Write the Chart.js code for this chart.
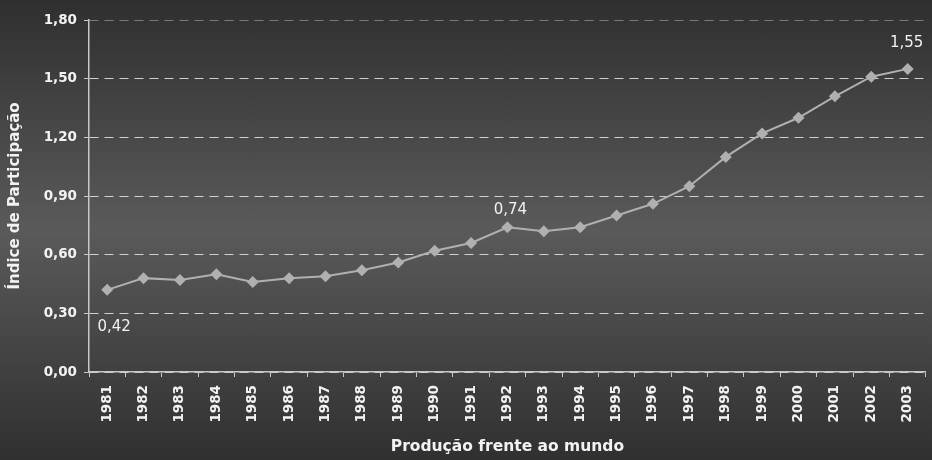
<!DOCTYPE html>
<html>
<head>
<meta charset="utf-8">
<script src="https://cdn.jsdelivr.net/npm/chart.js@4.4.1/dist/chart.umd.min.js"></script>
<style>
  html, body { margin: 0; padding: 0; }
  #wrap {
    width: 932px; height: 460px; position: relative;
    background: linear-gradient(to bottom, #2f2f2f 0%, #5a5a5a 50%, #303030 100%);
  }
</style>
</head>
<body>
<div id="wrap"><canvas id="chart"></canvas></div>
<script>
// Índice de participação - produção frente ao mundo
const anos = ['1981','1982','1983','1984','1985','1986','1987','1988','1989','1990','1991','1992',
              '1993','1994','1995','1996','1997','1998','1999','2000','2001','2002','2003'];
const indice = [0.42, 0.48, 0.47, 0.50, 0.46, 0.48, 0.49, 0.52, 0.56, 0.62, 0.66, 0.74,
                0.72, 0.74, 0.80, 0.86, 0.95, 1.10, 1.22, 1.30, 1.41, 1.51, 1.55];
const rotulosY = [0, 0.30, 0.60, 0.90, 1.20, 1.50, 1.80];
// pontos que levam rótulo de valor
const pontosRotulados = [0, 11, 22];

const fmt = v => v.toFixed(2).replace('.', ',');
const fonte = '"DejaVu Sans", Verdana, sans-serif';

// desenha os rótulos de valor (0,42 / 0,74 / 1,55)
const labelOffsets = { 0: [7, 37], 11: [3, -17], 22: [-1, -26] };
const valueLabels = {
  id: 'valueLabels',
  afterDatasetsDraw(chart) {
    const c = chart.ctx;
    const meta = chart.getDatasetMeta(0);
    c.save();
    c.font = '15px ' + fonte;
    c.fillStyle = '#f2f2f2';
    c.textAlign = 'center';
    c.textBaseline = 'middle';
    pontosRotulados.forEach(i => {
      const p = meta.data[i];
      const off = labelOffsets[i];
      c.fillText(fmt(indice[i]), p.x + off[0], p.y + off[1]);
    });
    c.restore();
  }
};

const ctx = document.getElementById('chart').getContext('2d');
const chart = new Chart(ctx, {
  type: 'line',
  data: {
    labels: anos,
    datasets: [{
      label: 'Índice de Participação',
      data: indice,
      borderColor: '#b0b0b0',
      borderWidth: 2,
      backgroundColor: '#b0b0b0',
      pointStyle: 'rectRot',
      pointRadius: 6,
      pointHoverRadius: 6,
      pointBorderWidth: 0,
      tension: 0
    }]
  },
  options: {
    responsive: true,
    maintainAspectRatio: false,
    animation: false,
    layout: { padding: { top: 20, right: 0, bottom: 0, left: 0 } },
    plugins: {
      legend: { display: false },
      tooltip: { enabled: false }
    },
    scales: {
      x: {
        offset: true,
        afterFit: s => { s.height = 88; },
        grid: {
          offset: true,
          drawOnChartArea: false,
          drawTicks: true,
          tickLength: 5,
          color: '#c8c8c8'
        },
        border: { display: true, color: '#c8c8c8', width: 1.5 },
        ticks: {
          color: '#f2f2f2',
          font: { family: fonte, size: 13.5, weight: 'bold' },
          minRotation: 90,
          maxRotation: 90,
          autoSkip: false,
          padding: 8
        },
        title: {
          display: true,
          text: 'Produção frente ao mundo',
          color: '#f2f2f2',
          font: { family: fonte, size: 15.5, weight: 'bold' },
          padding: { top: 0, bottom: 4 }
        }
      },
      y: {
        min: 0,
        max: 1.8,
        afterFit: s => { s.width = 89; },
        afterBuildTicks: s => { s.ticks = rotulosY.map(v => ({ value: v })); },
        grid: {
          color: c => (c.tick && c.tick.value === 1.8) ? '#7a7a7a' : '#d0d0d0',
          tickLength: 5,
          tickColor: '#c8c8c8',
          tickBorderDash: [],
          lineWidth: 1
        },
        border: { display: true, color: '#c8c8c8', width: 1.5, dash: [9, 6] },
        ticks: {
          color: '#f2f2f2',
          font: { family: fonte, size: 13.5, weight: 'bold' },
          padding: 7,
          callback: v => fmt(v)
        },
        title: {
          display: true,
          text: 'Índice de Participação',
          color: '#f2f2f2',
          font: { family: fonte, size: 15, weight: 'bold' },
          padding: { top: 6, bottom: 0 }
        }
      }
    }
  },
  plugins: [valueLabels]
});
</script>
</body>
</html>
